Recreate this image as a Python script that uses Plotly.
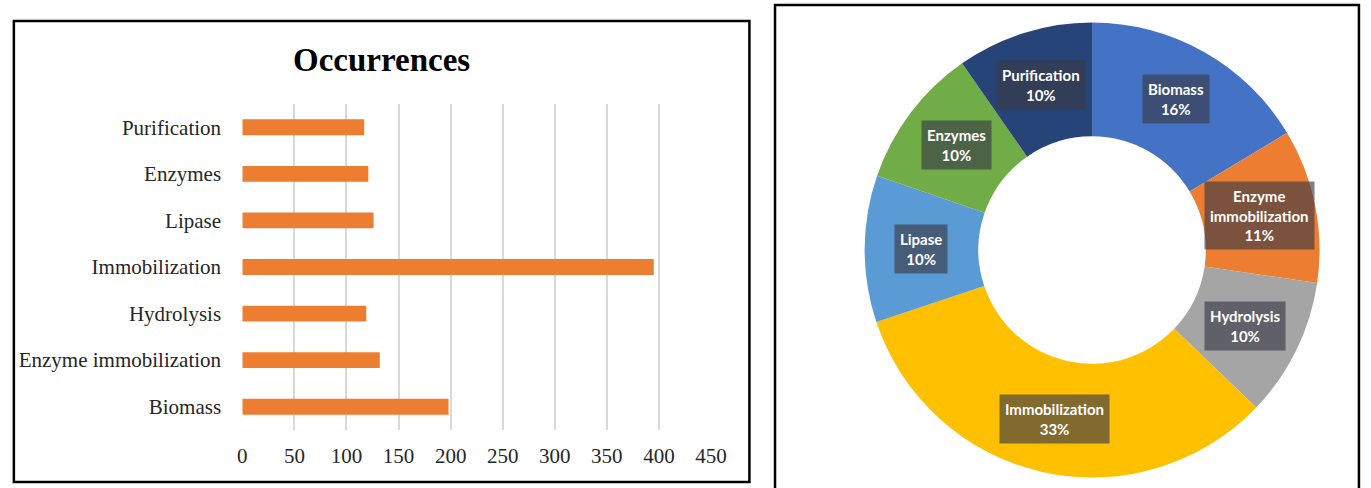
import math
import plotly.graph_objects as go

# ---- data ----
bar_categories = ["Biomass", "Enzyme immobilization", "Hydrolysis", "Immobilization",
                  "Lipase", "Enzymes", "Purification"]
bar_values = [198, 132, 119, 395, 126, 121, 117]
x_ticks = [0, 50, 100, 150, 200, 250, 300, 350, 400, 450]

pie_labels = ["Biomass", "Enzyme immobilization", "Hydrolysis", "Immobilization",
              "Lipase", "Enzymes", "Purification"]
pie_values = [198, 132, 119, 395, 126, 121, 117]
pie_colors = ["#4472C4", "#ED7D31", "#A5A5A5", "#FFC000", "#5B9BD5", "#70AD47", "#264478"]
pie_box_text = ["Biomass", "Enzyme<br>immobilization", "Hydrolysis", "Immobilization",
                "Lipase", "Enzymes", "Purification"]

W, H = 1371, 488

fig = go.Figure()

# ---- left: horizontal bar chart ----
fig.add_trace(go.Bar(
    x=bar_values, y=bar_categories, orientation="h",
    marker=dict(color="#ED7D31", line=dict(width=0)),
    width=0.34, xaxis="x", yaxis="y", hoverinfo="x+y", showlegend=False,
))

# ---- right: donut ----
cx, cy, R = 1104, 250, 231
fig.add_trace(go.Pie(
    labels=pie_labels, values=pie_values, hole=0.5, sort=False,
    direction="clockwise", rotation=0,
    marker=dict(colors=pie_colors, line=dict(width=0)),
    textinfo="none", showlegend=False,
    domain=dict(x=[(cx - R) / W, (cx + R) / W], y=[1 - (cy + R) / H, 1 - (cy - R) / H]),
))

annotations = []
total = sum(pie_values)
cum = 0
rmid = R * 0.75
for lab, v in zip(pie_box_text, pie_values):
    mid = (cum + v / 2) / total * 2 * math.pi
    cum += v
    px = cx + rmid * math.sin(mid)
    py = cy - rmid * math.cos(mid)
    pct = round(v / total * 100)
    annotations.append(dict(
        x=px / W, y=1 - py / H, xref="paper", yref="paper",
        xanchor="center", yanchor="middle",
        text=f"{lab}<br>{pct}%", showarrow=False,
        font=dict(family="Lato", size=15, color="white", weight="bold"),
        bgcolor="rgba(58,58,70,0.64)", borderpad=5, align="center",
    ))

annotations.append(dict(
    x=382 / W, y=1 - 60 / H, xref="paper", yref="paper",
    xanchor="center", yanchor="middle",
    text="<b>Occurrences</b>", showarrow=False,
    font=dict(family="Liberation Serif", size=33, color="black"),
))

shapes = [
    dict(type="rect", xref="paper", yref="paper",
         x0=9 / W, x1=756 / W, y0=1 - 482 / H, y1=1 - 21 / H,
         line=dict(color="black", width=2.5), fillcolor="rgba(0,0,0,0)"),
    dict(type="rect", xref="paper", yref="paper",
         x0=782 / W, x1=1375 / W, y0=-0.02, y1=1 - 5 / H,
         line=dict(color="black", width=2.5), fillcolor="rgba(0,0,0,0)"),
]

fig.update_layout(
    width=W, height=H,
    margin=dict(l=0, r=0, t=0, b=0),
    paper_bgcolor="white", plot_bgcolor="white",
    xaxis=dict(domain=[241 / W, 717 / W], range=[0, 450], tickvals=x_ticks,
               showgrid=True, gridcolor="#D9D9D9", gridwidth=1.5,
               zeroline=False, showline=False,
               ticks="outside", ticklen=7, tickcolor="rgba(0,0,0,0)",
               tickfont=dict(family="Liberation Serif", size=21, color="#262626"),
               fixedrange=True),
    yaxis=dict(domain=[1 - 430 / H, 1 - 104 / H], categoryorder="array",
               categoryarray=bar_categories, showgrid=False, zeroline=False,
               showline=False, ticks="outside", ticklen=16,
               tickcolor="rgba(0,0,0,0)",
               tickfont=dict(family="Liberation Serif", size=21, color="#262626"),
               fixedrange=True),
    bargap=0.66,
    annotations=annotations,
    shapes=shapes,
)

fig.write_html(
    "out.html",
    post_script="document.body.style.margin='0';document.body.style.overflow='hidden';",
)
